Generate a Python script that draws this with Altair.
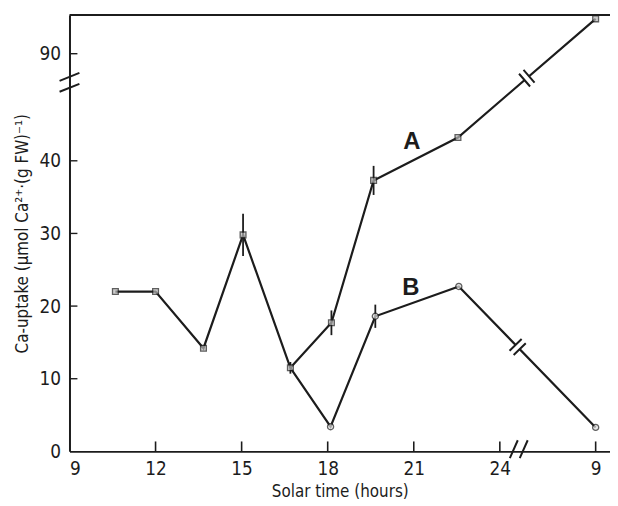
import math
import altair as alt
import pandas as pd

# ---------------- data ----------------
common_hours = [10.6, 12.0, 13.67, 15.05, 16.7]
common_vals = [22.0, 22.0, 14.2, 29.8, 11.5]
a_hours = [16.7, 18.13, 19.6, 22.54, 33.0]   # 33 h = 9 h next day
a_vals = [11.5, 17.7, 37.3, 43.2, 94.8]
b_hours = [16.7, 18.1, 19.66, 22.57, 33.0]
b_vals = [11.5, 3.4, 18.6, 22.7, 3.3]
err_hours = [15.05, 16.7, 18.13, 19.6, 19.66]
err_vals = [29.8, 11.5, 17.7, 37.3, 18.6]
err_half = [2.9, 0.8, 1.7, 2.0, 1.6]
x_ticks = [9, 12, 15, 18, 21, 24, 33]
y_ticks = [0, 10, 20, 30, 40, 90]
series_labels = ["A", "B"]
label_hours = [20.93, 20.9]
label_vals = [42.6, 22.5]

# ---------------- axis-break mapping ----------------
X_CUT = 5.66    # hours hidden by the time-axis break (after 24 h)
Y_CUT = 35.26   # units hidden by the uptake-axis break (above 50)
W, H = 545, 440
XD = [9, 27.84]
YD = [0, 60.07]
PX = W / (XD[1] - XD[0])
PY = H / (YD[1] - YD[0])


def xp(h):
    return h if h <= 24 else h - X_CUT


def yp(v):
    return v if v <= 50 else v - Y_CUT


FONT = "DejaVu Sans Condensed, Liberation Sans Narrow, Liberation Sans, sans-serif"
INK = "#1c1c1c"

rows = []
for s, hs, vs in [("C", common_hours, common_vals), ("A", a_hours, a_vals), ("B", b_hours, b_vals)]:
    for i, (h, v) in enumerate(zip(hs, vs)):
        rows.append({"series": s, "i": i, "x": xp(h), "y": yp(v)})
df = pd.DataFrame(rows)

xs = alt.Scale(domain=XD, nice=False, zero=False)
ys = alt.Scale(domain=YD, nice=False, zero=False)

x_label_expr = "datum.value > 24 ? format(datum.value + %s - 24, 'd') : datum.label" % X_CUT
y_label_expr = "datum.value > 50 ? format(datum.value + %s, '.0f') : datum.label" % Y_CUT

X = alt.X("x:Q", scale=xs, axis=alt.Axis(
    title="Solar time (hours)", values=[xp(t) for t in x_ticks], labelExpr=x_label_expr,
    grid=False, ticks=False, labelPadding=8, labelFontSize=19, labelFont=FONT,
    labelColor=INK, titleFont=FONT, titleFontSize=17, titleFontWeight="normal",
    titleColor=INK, titleY=41, titleBaseline="middle", domainColor=INK, domainWidth=2))
Y = alt.Y("y:Q", scale=ys, axis=alt.Axis(
    title="Ca-uptake (µmol Ca²⁺·(g FW)⁻¹)", values=[yp(t) for t in y_ticks],
    labelExpr=y_label_expr, grid=False, ticks=False, labelPadding=9, labelFontSize=19,
    labelFont=FONT, labelColor=INK, titleFont=FONT, titleFontSize=17,
    titleFontWeight="normal", titleColor=INK, titleX=-47, titleY=H / 2, titleAngle=270,
    titleAlign="center", titleBaseline="middle", domainColor=INK, domainWidth=2))

lines = alt.Chart(df).mark_line(color=INK, strokeWidth=2.2).encode(
    x=X, y=Y, detail="series:N", order="i:Q")

err_df = pd.DataFrame({"x": [xp(h) for h in err_hours],
                       "lo": [yp(v - e) for v, e in zip(err_vals, err_half)],
                       "hi": [yp(v + e) for v, e in zip(err_vals, err_half)]})
errs = alt.Chart(err_df).mark_rule(color=INK, strokeWidth=1.8).encode(
    x=alt.X("x:Q", scale=xs), y=alt.Y("lo:Q", scale=ys), y2="hi:Q")

sq_df = df[(df.series == "C") | ((df.series == "A") & (df.i > 0))]
ci_df = df[(df.series == "B") & (df.i > 0)]
squares = alt.Chart(sq_df).mark_point(shape="square", size=34, filled=True, fill="#b8b8b8",
                                      stroke=INK, strokeWidth=1.3).encode(
    x=alt.X("x:Q", scale=xs), y=alt.Y("y:Q", scale=ys))
circles = alt.Chart(ci_df).mark_point(shape="circle", size=38, filled=True, fill="#e0e0e0",
                                      stroke=INK, strokeWidth=1.3).encode(
    x=alt.X("x:Q", scale=xs), y=alt.Y("y:Q", scale=ys))

lab_df = pd.DataFrame({"t": series_labels, "x": label_hours, "y": label_vals})
labels = alt.Chart(lab_df).mark_text(font="Liberation Sans", fontSize=24, fontWeight="bold",
                                     color=INK).encode(
    x=alt.X("x:Q", scale=xs), y=alt.Y("y:Q", scale=ys), text="t:N")

# inward tick marks
xt_df = pd.DataFrame({"x": [xp(t) for t in x_ticks[1:]]})
xticks = alt.Chart(xt_df).mark_rule(color=INK, strokeWidth=1.6).encode(
    x=alt.X("x:Q", scale=xs), y=alt.value(H), y2=alt.value(H - 10))
yt_df = pd.DataFrame({"y": [yp(t) for t in y_ticks[1:]]})
yticks = alt.Chart(yt_df).mark_rule(color=INK, strokeWidth=1.4).encode(
    y=alt.Y("y:Q", scale=ys), x=alt.value(0), x2=alt.value(8))

# top frame line
top = alt.Chart(pd.DataFrame({"k": [0]})).mark_rule(color=INK, strokeWidth=2.2).encode(
    x=alt.value(0), x2=alt.value(W), y=alt.value(0))

# axis break marks
YBRK = "M-1,-0.15L1,-0.95M-1,0.95L1,0.15"
XBRK = "M-0.9,0.9L-0.1,-0.9M0.1,0.9L0.9,-0.9"
ybrk = alt.Chart(pd.DataFrame({"x": [XD[0]], "y": [50.8]})).mark_point(
    shape=YBRK, size=400, filled=False, stroke=INK, strokeWidth=2, opacity=1).encode(
    x=alt.X("x:Q", scale=xs), y=alt.Y("y:Q", scale=ys))
xbrk = alt.Chart(pd.DataFrame({"x": [24.66], "y": [0.3]})).mark_point(
    shape=XBRK, size=400, filled=False, stroke=INK, strokeWidth=2, opacity=1).encode(
    x=alt.X("x:Q", scale=xs), y=alt.Y("y:Q", scale=ys))

# breaks on the connecting lines to the next-day point
brk_rows = []
for hs, vs, f in [(a_hours, a_vals, 0.5), (b_hours, b_vals, 0.43)]:
    x0, y0, x1, y1 = xp(hs[-2]), yp(vs[-2]), xp(hs[-1]), yp(vs[-1])
    ang = math.degrees(math.atan2(-(y1 - y0) * PY, (x1 - x0) * PX)) % 360
    brk_rows.append({"x": x0 + f * (x1 - x0), "y": y0 + f * (y1 - y0), "a": ang})
brk_df = pd.DataFrame(brk_rows)
gap = alt.Chart(brk_df).mark_point(
    shape="M-0.3,-0.3L0.3,-0.3L0.3,0.3L-0.3,0.3Z", size=289, filled=True, fill="white",
    strokeWidth=0, opacity=1).encode(
    x=alt.X("x:Q", scale=xs), y=alt.Y("y:Q", scale=ys), angle=alt.Angle("a:Q", scale=None))
slashes = alt.Chart(brk_df).mark_point(
    shape="M-0.35,-1L-0.35,1M0.35,-1L0.35,1", size=289, filled=False, stroke=INK,
    strokeWidth=2, opacity=1).encode(
    x=alt.X("x:Q", scale=xs), y=alt.Y("y:Q", scale=ys), angle=alt.Angle("a:Q", scale=None))

chart = alt.layer(top, lines, errs, gap, slashes, squares, circles, labels,
                  xticks, yticks, ybrk, xbrk).properties(
    width=W, height=H,
    autosize=alt.AutoSizeParams(type="none"),
    padding={"left": 62, "top": 5, "right": 0, "bottom": 50},
    background="white",
).configure_view(stroke=None)

chart.save("out.html", embed_options={"renderer": "svg", "actions": False})
